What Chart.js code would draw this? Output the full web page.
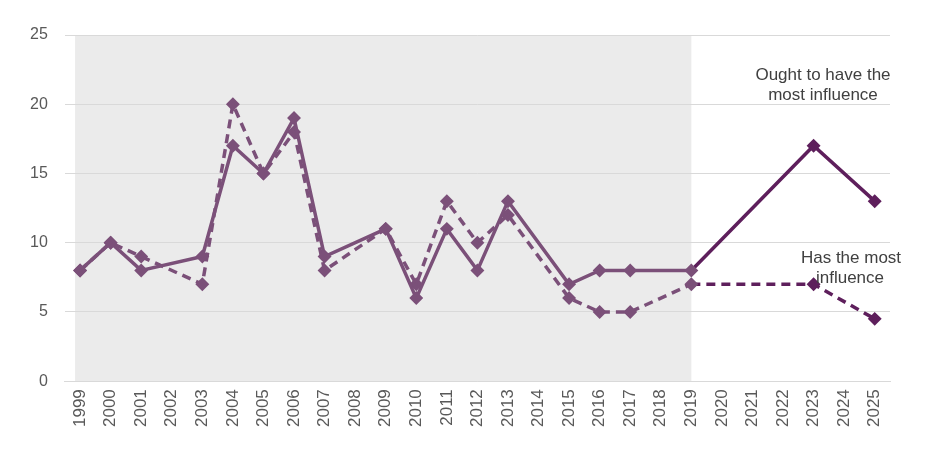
<!DOCTYPE html>
<html>
<head>
<meta charset="utf-8">
<script src="https://cdn.jsdelivr.net/npm/chart.js@4"></script>
<style>
  html, body { margin: 0; padding: 0; background: #fff; }
  #wrap { width: 932px; height: 468px; position: relative; }
</style>
</head>
<body>
<div id="wrap"><canvas id="c"></canvas></div>
<script>
// años del eje x
const years = ["1999","2000","2001","2002","2003","2004","2005","2006","2007","2008","2009","2010","2011","2012","2013","2014","2015","2016","2017","2018","2019","2020","2021","2022","2023","2024","2025"];
// "Ought to have the most influence" (línea continua)
const ought = [8,10,8,null,9,17,15,19,9,null,11,6,11,8,13,null,7,8,8,null,8,null,null,null,17,null,13];
// "Has the most influence" (línea discontinua)
const has = [8,10,9,null,7,20,15,18,8,null,11,7,13,10,12,null,6,5,5,null,7,null,null,null,7,null,4.5];
const yTicks = [0,5,10,15,20,25];

const LIGHT = "#7b5079", DARK = "#5e1f5c", SPLIT = 20; // índice de 2019
const FONT = "'Liberation Sans', Arial, sans-serif";

const segColor = (ctx) => ctx.p0DataIndex >= SPLIT ? DARK : LIGHT;
const ptColor = (ctx) => ctx.dataIndex > SPLIT ? DARK : LIGHT;

// fondo gris para el periodo histórico + textos de las series
const shade = {
  id: "shade",
  beforeDraw(chart) {
    const { ctx, chartArea, scales } = chart;
    const x0 = scales.x.getPixelForValue(0) - 5;
    const x1 = scales.x.getPixelForValue(SPLIT);
    ctx.save();
    ctx.fillStyle = "#ebebeb";
    ctx.fillRect(x0, chartArea.top, x1 - x0, chartArea.bottom - chartArea.top);
    ctx.restore();
  },
  afterDraw(chart) {
    const { ctx } = chart;
    ctx.save();
    ctx.fillStyle = "#404040";
    ctx.font = "17px " + FONT;
    ctx.textAlign = "center";
    ctx.textBaseline = "middle";
    ctx.fillText("Ought to have the", 823, 75);
    ctx.fillText("most influence", 823, 95);
    ctx.fillText("Has the most", 851, 258);
    ctx.fillText("influence", 850, 278);
    ctx.restore();
  }
};

new Chart(document.getElementById("c").getContext("2d"), {
  type: "line",
  data: {
    labels: years,
    datasets: [
      { label: "Ought to have the most influence", data: ought, spanGaps: true, borderWidth: 3.5,
        segment: { borderColor: segColor }, borderColor: LIGHT,
        pointStyle: "rectRot", pointRadius: 4.5, pointBackgroundColor: ptColor, pointBorderColor: ptColor },
      { label: "Has the most influence", data: has, spanGaps: true, borderWidth: 3.5, borderDash: [9, 6],
        segment: { borderColor: segColor }, borderColor: LIGHT,
        pointStyle: "rectRot", pointRadius: 4.5, pointBackgroundColor: ptColor, pointBorderColor: ptColor },
    ],
  },
  options: {
    responsive: true, maintainAspectRatio: false, animation: false,
    layout: { padding: { left: 13, right: 42, top: 35, bottom: 33 } },
    plugins: { legend: { display: false }, tooltip: { enabled: false } },
    scales: {
      x: {
        offset: true,
        grid: { display: false, drawTicks: false },
        border: { color: "#d9d9d9", width: 1 },
        ticks: { color: "#595959", font: { size: 17, family: FONT }, maxRotation: 90, minRotation: 90, autoSkip: false, padding: 8 },
      },
      y: {
        min: 0, max: 25,
        afterBuildTicks: (s) => { s.ticks = yTicks.map((v) => ({ value: v })); },
        grid: { color: "#d9d9d9", drawTicks: false },
        border: { display: false },
        ticks: { color: "#595959", font: { size: 16, family: FONT }, padding: 17 },
      },
    },
  },
  plugins: [shade],
});
</script>
</body>
</html>
